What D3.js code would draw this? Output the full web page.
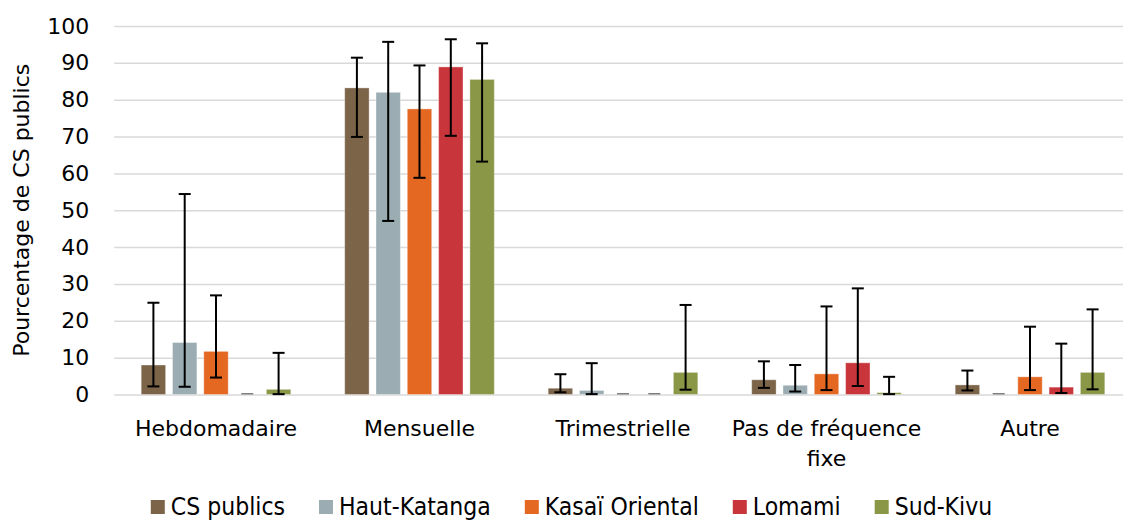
<!DOCTYPE html>
<html>
<head>
<meta charset="utf-8">
<script src="https://cdn.jsdelivr.net/npm/d3@7"></script>
<style>
  html, body { margin: 0; padding: 0; background: #fff; }
  svg { display: block; }
  text { font-family: "DejaVu Sans", sans-serif; fill: #000; }
</style>
</head>
<body>
<svg id="chart" width="1123" height="521"></svg>
<script>
// ---- Data ----
const categories = ["Hebdomadaire", "Mensuelle", "Trimestrielle", "Pas de fréquence fixe", "Autre"];
const seriesNames = ["CS publics", "Haut-Katanga", "Kasaï Oriental", "Lomami", "Sud-Kivu"];
const seriesColors = ["#7B6447", "#9BADB2", "#E46722", "#C8353A", "#8A9747"];

const csPublics     = [8.0, 83.2, 1.7, 4.0, 2.6];
const hautKatanga   = [14.1, 82.0, 1.1, 2.5, 0];
const kasaiOriental = [11.7, 77.5, 0, 5.6, 4.8];
const lomami        = [0, 88.9, 0, 8.6, 2.0];
const sudKivu       = [1.4, 85.5, 6.0, 0.5, 6.0];

const csPublicsLow     = [2.2, 69.9, 0.6, 1.8, 1.1];
const hautKatangaLow   = [2.1, 47.1, 0.1, 0.8, null];
const kasaiOrientalLow = [4.6, 58.8, null, 1.2, 1.2];
const lomamiLow        = [null, 70.2, null, 2.3, 0.4];
const sudKivuLow       = [0.1, 63.2, 1.3, 0.1, 1.4];

const csPublicsHigh     = [24.9, 91.4, 5.5, 9.0, 6.5];
const hautKatangaHigh   = [54.4, 95.7, 8.5, 8.0, null];
const kasaiOrientalHigh = [26.9, 89.3, null, 23.9, 18.4];
const lomamiHigh        = [null, 96.4, null, 28.8, 13.8];
const sudKivuHigh       = [11.3, 95.3, 24.3, 4.8, 23.1];

const yTicks = [0, 10, 20, 30, 40, 50, 60, 70, 80, 90, 100];
const yTitle = "Pourcentage de CS publics";

const values = [csPublics, hautKatanga, kasaiOriental, lomami, sudKivu];
const lows = [csPublicsLow, hautKatangaLow, kasaiOrientalLow, lomamiLow, sudKivuLow];
const highs = [csPublicsHigh, hautKatangaHigh, kasaiOrientalHigh, lomamiHigh, sudKivuHigh];

// ---- Layout ----
const svg = d3.select("#chart");
const plotLeft = 114.25, plotRight = 1131.75, plotTop = 26, plotBottom = 394.5;

const x0 = d3.scaleBand().domain(categories).range([plotLeft, plotRight]).padding(0);
const x1 = d3.scaleBand().domain(seriesNames).range([0, x0.bandwidth()])
  .paddingInner(0.22).paddingOuter(0.861);
const y = d3.scaleLinear().domain([0, 100]).range([plotBottom, plotTop]);

// gridlines
const yAxis = d3.axisLeft(y).tickValues(yTicks).tickSize(-(plotRight - plotLeft)).tickPadding(25);
const gy = svg.append("g").attr("transform", `translate(${plotLeft},0)`).call(yAxis);
gy.select(".domain").remove();
gy.selectAll(".tick line").attr("stroke", "#d9d9d9").attr("stroke-width", 1.5);
gy.selectAll(".tick text").attr("font-size", 22).attr("fill", "#000")
  .style("font-family", "'DejaVu Sans', sans-serif");

// y title
svg.append("text")
  .attr("transform", `translate(29,${(plotTop + plotBottom) / 2}) rotate(-90)`)
  .attr("text-anchor", "middle")
  .attr("font-size", 22)
  .text(yTitle);

// bars
const rows = [];
categories.forEach((c, ci) => {
  seriesNames.forEach((s, si) => {
    rows.push({ cat: c, ser: s, si, v: values[si][ci], lo: lows[si][ci], hi: highs[si][ci] });
  });
});

const gBars = svg.append("g");
rows.forEach(d => {
  const bx = x0(d.cat) + x1(d.ser);
  const bw = x1.bandwidth();
  if (d.v === 0) {
    gBars.append("rect")
      .attr("x", bx + bw / 2 - 6).attr("width", 12)
      .attr("y", y(0) - 1.5).attr("height", 1.5)
      .attr("fill", "#7f7f7f");
  } else {
    gBars.append("rect")
      .attr("x", bx).attr("width", bw)
      .attr("y", y(d.v)).attr("height", y(0) - y(d.v))
      .attr("fill", seriesColors[d.si])
      .attr("stroke", "#ffffff").attr("stroke-opacity", 0.35).attr("stroke-width", 1);
  }
});

// error bars
const gErr = svg.append("g").attr("stroke", "#000").attr("stroke-width", 2);
rows.filter(d => d.lo !== null && d.hi !== null).forEach(d => {
  const cx = x0(d.cat) + x1(d.ser) + x1.bandwidth() / 2;
  gErr.append("line").attr("x1", cx).attr("x2", cx).attr("y1", y(d.lo)).attr("y2", y(d.hi));
  gErr.append("line").attr("x1", cx - 6).attr("x2", cx + 6).attr("y1", y(d.lo)).attr("y2", y(d.lo));
  gErr.append("line").attr("x1", cx - 6).attr("x2", cx + 6).attr("y1", y(d.hi)).attr("y2", y(d.hi));
});

// category labels (wrapped)
function wrapLines(text, maxW, size) {
  const tmp = svg.append("text").attr("font-size", size);
  const words = text.split(" ");
  const lines = [];
  let cur = "";
  words.forEach(w => {
    const test = cur ? cur + " " + w : w;
    tmp.text(test);
    if (tmp.node().getComputedTextLength() > maxW && cur) {
      lines.push(cur);
      cur = w;
    } else {
      cur = test;
    }
  });
  if (cur) lines.push(cur);
  tmp.remove();
  return lines;
}
const gCat = svg.append("g");
categories.forEach(c => {
  const lines = wrapLines(c, 195, 22);
  const t = gCat.append("text")
    .attr("x", x0(c) + x0.bandwidth() / 2)
    .attr("y", 436)
    .attr("text-anchor", "middle")
    .attr("font-size", 22);
  lines.forEach((l, i) => {
    t.append("tspan").attr("x", x0(c) + x0.bandwidth() / 2).attr("dy", i === 0 ? 0 : 30).text(l);
  });
});

// legend
const gLeg = svg.append("g");
const legFont = "'DejaVu Sans Condensed', 'DejaVu Sans', sans-serif";
const items = [];
seriesNames.forEach((s, i) => {
  const g = gLeg.append("g");
  g.append("rect").attr("x", 0).attr("y", 500).attr("width", 14).attr("height", 14).attr("fill", seriesColors[i]);
  const t = g.append("text").attr("x", 20).attr("y", 515).attr("font-size", 24.5)
    .style("font-family", legFont).text(s);
  const w = 20 + t.node().getComputedTextLength();
  items.push({ g, w });
});
const gap = 34;
const total = d3.sum(items, d => d.w) + gap * (items.length - 1);
let lx = 571.5 - total / 2;
items.forEach(it => {
  it.g.attr("transform", `translate(${lx},0)`);
  lx += it.w + gap;
});
</script>
</body>
</html>
